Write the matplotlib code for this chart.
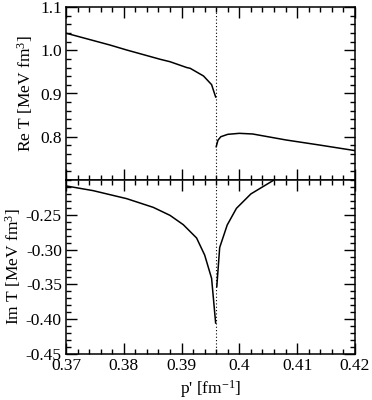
import numpy as np
import matplotlib
matplotlib.use("Agg")
import matplotlib.pyplot as plt
from matplotlib.ticker import MultipleLocator, FixedLocator

plt.rcParams.update({"font.family": "Liberation Serif", "font.size": 12.5,
                     "mathtext.default": "regular"})

# ---- data ----
threshold = 0.3960

re_p_left = [0.3700, 0.3776, 0.3805, 0.3863, 0.3880, 0.3909, 0.3915, 0.3938, 0.3952, 0.3957, 0.3959]
re_v_left = [1.0395, 1.0121, 1.0006, 0.9791, 0.9735, 0.9600, 0.9582, 0.9405, 0.9205, 0.9000, 0.8920]
re_p_right = [0.3960, 0.3963, 0.3968, 0.3980, 0.4000, 0.4023, 0.4081, 0.4138, 0.4200]
re_v_right = [0.7770, 0.7920, 0.8001, 0.8056, 0.8079, 0.8064, 0.7925, 0.7810, 0.7680]

im_p_left = [0.3700, 0.3747, 0.3805, 0.3851, 0.3880, 0.3903, 0.3926, 0.3940, 0.3952, 0.3959]
im_v_left = [-0.2085, -0.2153, -0.2268, -0.2393, -0.2508, -0.2642, -0.2833, -0.3078, -0.3413, -0.4055]
im_p_right = [0.3961, 0.3966, 0.3979, 0.3995, 0.4020, 0.4060]
im_v_right = [-0.3533, -0.2970, -0.2647, -0.2407, -0.2200, -0.2000]

fig = plt.figure(figsize=(3.72, 4.0), dpi=100)
ax1 = fig.add_axes([0.1774, 0.55, 0.7766, 0.4325])
ax2 = fig.add_axes([0.1774, 0.115, 0.7766, 0.435], sharex=ax1)

lw = 1.1
ax1.plot(re_p_left, re_v_left, color="black", lw=lw)
ax1.plot(re_p_right, re_v_right, color="black", lw=lw)
ax2.plot(im_p_left, im_v_left, color="black", lw=lw)
ax2.plot(im_p_right, im_v_right, color="black", lw=lw)
for ax in (ax1, ax2):
    ax.axvline(threshold, color="black", ls=(0, (1, 2)), lw=0.8)

ax1.set_xlim(0.37, 0.42)
ax1.set_ylim(0.7, 1.1)
ax2.set_ylim(-0.45, -0.2)

ax1.yaxis.set_major_locator(FixedLocator([0.8, 0.9, 1.0, 1.1]))
ax1.yaxis.set_minor_locator(MultipleLocator(0.02))
ax1.set_yticklabels(["0.8", "0.9", "1.0", "1.1"])
ax2.yaxis.set_major_locator(FixedLocator([-0.45, -0.40, -0.35, -0.30, -0.25]))
ax2.yaxis.set_minor_locator(MultipleLocator(0.01))
ax2.set_yticklabels(["-0.45", "-0.40", "-0.35", "-0.30", "-0.25"])
ax2.xaxis.set_major_locator(FixedLocator([0.37, 0.38, 0.39, 0.40, 0.41, 0.42]))
ax2.xaxis.set_minor_locator(MultipleLocator(0.002))
ax2.set_xticklabels(["0.37", "0.38", "0.39", "0.4", "0.41", "0.42"])
ax1.tick_params(labelbottom=False)

for ax in (ax1, ax2):
    ax.tick_params(which="both", direction="in", top=True, right=True, width=1.0)
    ax.tick_params(which="major", length=8, pad=3)
    ax.tick_params(which="minor", length=3.6)
    for s in ax.spines.values():
        s.set_linewidth(1.1)

ax1.set_ylabel("Re T [MeV fm$^3$]", fontsize=12.5)
ax2.set_ylabel("Im T [MeV fm$^3$]", fontsize=12.5)
ax1.yaxis.set_label_coords(-0.107, 0.5)
ax2.yaxis.set_label_coords(-0.15, 0.5)
ax2.set_xlabel("p' [fm$^{-1}$]", fontsize=12.5, labelpad=3)

fig.savefig("out.png", dpi=100)
